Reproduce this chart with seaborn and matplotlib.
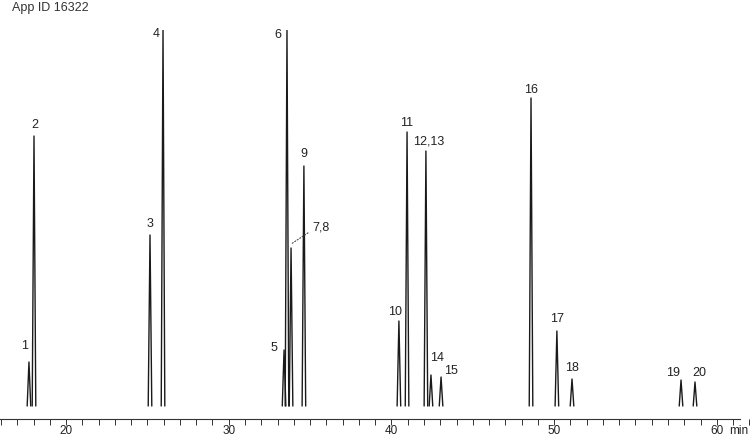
import numpy as np
import pandas as pd
import seaborn as sns
import matplotlib.pyplot as plt
from matplotlib.ticker import MultipleLocator

# peak table (retention time in min, height in arbitrary units)
peak_labels = ["1", "2", "3", "4", "5", "6", "7,8", "9", "10", "11",
               "12,13", "14", "15", "16", "17", "18", "19", "20"]
retention = [17.72, 18.03, 25.16, 25.96, 33.40, 33.58, 33.83, 34.62, 40.46, 40.96,
             42.12, 42.43, 43.05, 48.58, 50.17, 51.10, 57.80, 58.66]
heights = [44, 270, 171, 376, 56, 376, 158, 240, 85, 274,
           255, 31, 29, 308, 75, 27, 26, 24]

# label offsets from apex, in pixels
label_dx = [-4, 1, 0, -7, -10, -9, 30, 0, -4, 0, 3, 6, 10, 0, 0, 0, -8, 4]
label_dy = [16, 11, 11, -4, 2, -5, 17, 12, 9, 9, 10, 17, 6, 8, 12, 11, 7, 9]
half_width = 0.11

rows = []
for i, (t, h) in enumerate(zip(retention, heights)):
    for x, y in [(t - half_width, 0), (t, h), (t + half_width, 0)]:
        rows.append({"peak": i, "time": x, "signal": y})
df = pd.DataFrame(rows)

sns.set_style("white")
plt.rcParams['font.family'] = ['Liberation Sans', 'DejaVu Sans']

fig = plt.figure(figsize=(7.5, 4.37), dpi=100)
ax = fig.add_axes([0, 18 / 437, 1, (419 - 30) / 437])

sns.lineplot(data=df, x="time", y="signal", units="peak", estimator=None,
             color="#1a1a1a", linewidth=1.0, ax=ax)

ax.set_xlim(15.94, 62.04)
ax.set_ylim(-13, 376)

for i, lab in enumerate(peak_labels):
    if lab == "7,8":
        ax.annotate(lab, xy=(retention[i], heights[i] + 4), xytext=(label_dx[i], label_dy[i]),
                    textcoords="offset pixels", ha="center", va="center", fontsize=9,
                    color="#222222",
                    arrowprops=dict(arrowstyle="-", linestyle=":", color="#444444",
                                    lw=0.8, shrinkA=1, shrinkB=0, relpos=(0, 0.25)))
    else:
        ax.annotate(lab, xy=(retention[i], heights[i]), xytext=(label_dx[i], label_dy[i]),
                    textcoords="offset pixels", ha="center", va="center", fontsize=9,
                    color="#222222")

for s in ["left", "top", "right"]:
    ax.spines[s].set_visible(False)
ax.spines["bottom"].set_color("#333333")
ax.spines["bottom"].set_linewidth(0.8)
ax.spines["bottom"].set_bounds(15.94, 61.4)

ax.xaxis.set_major_locator(MultipleLocator(10))
ax.xaxis.set_minor_locator(MultipleLocator(1))
ax.tick_params(axis="x", which="both", bottom=True, direction="out", length=4, width=0.7,
               color="#333333", labelsize=8.5, labelcolor="#222222", pad=0.5)
ax.set_yticks([])
ax.set_xlabel("")
ax.set_ylabel("")

fig.text(729 / 750, 6 / 437, "min", ha="left", va="center",
         fontsize=8.5, color="#222222")
fig.text(12 / 750, 1 - 8 / 437, "App ID 16322", ha="left", va="center",
         fontsize=9, color="#333333")

fig.savefig("out.png", dpi=100)
